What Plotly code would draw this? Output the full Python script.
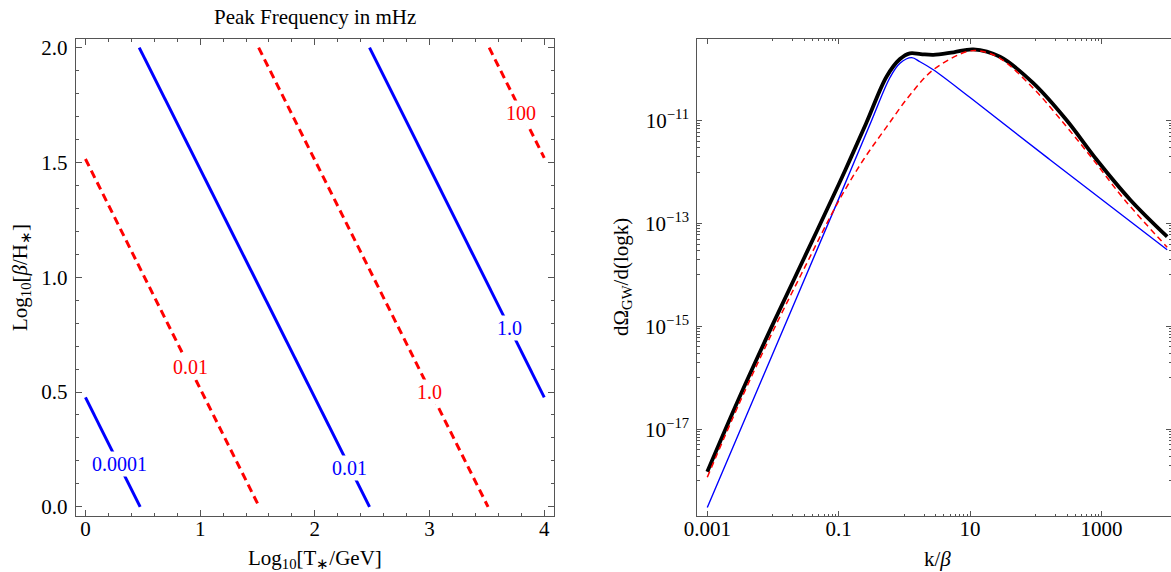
import plotly.graph_objects as go

# ---------------- left panel: contour lines of peak frequency (mHz) ----------------
blue_levels = ["0.0001", "0.01", "1.0"]
blue_T = [[0.0, 0.477], [0.469, 2.477], [2.477, 4.0]]      # Log10[T*/GeV] end points
blue_B = [[0.477, 0.0], [2.0, 0.0], [2.0, 0.477]]          # Log10[beta/H*] end points
blue_lab_T = [0.30, 2.30, 3.70]
blue_lab_B = [0.185, 0.17, 0.78]

red_levels = ["0.01", "1.0", "100"]
red_T = [[0.0, 1.515], [1.51, 3.51], [3.52, 4.0]]
red_B = [[1.515, 0.0], [2.0, 0.0], [2.0, 1.52]]
red_lab_T = [0.915, 3.0, 3.80]
red_lab_B = [0.607, 0.5, 1.716]

x_ticks_left = [0, 1, 2, 3, 4]
y_ticks_left = [0.0, 0.5, 1.0, 1.5, 2.0]
y_ticktext_left = ["0.0", "0.5", "1.0", "1.5", "2.0"]

# ---------------- right panel: GW spectrum ----------------
k_total = [0.001, 0.00296, 0.01, 0.0316, 0.1, 0.1486, 0.2667, 0.537, 0.857, 1.213,
           1.778, 2.754, 5.62, 11.19, 28.5, 91.6, 295, 845, 2754, 10000]
om_total = [1.50e-18, 3.72e-17, 1.12e-15, 2.51e-14, 5.75e-13, 1.75e-12, 9.4e-12,
            7.24e-11, 1.58e-10, 2.04e-10, 1.97e-10, 1.90e-10, 2.14e-10, 2.44e-10,
            1.75e-10, 5.37e-11, 1.02e-11, 1.74e-12, 2.88e-13, 5.56e-14]

k_blue = [0.001, 0.01, 0.1, 0.177, 0.318, 0.604, 0.857, 1.291, 1.726, 2.754, 10, 164.4, 10000]
om_blue = [3.02e-19, 3.02e-16, 3.02e-13, 1.72e-12, 1.02e-11, 6.92e-11, 1.31e-10,
           1.68e-10, 1.40e-10, 9.77e-11, 2.82e-11, 1.74e-12, 3.09e-14]

k_red = [0.001, 0.00316, 0.01, 0.0316, 0.1, 0.2366, 0.537, 1.216, 2.754, 8.87, 14.16,
         28.5, 91.6, 295, 750, 2254, 10000]
om_red = [1.17e-18, 3.47e-17, 8.13e-16, 1.55e-14, 2.75e-13, 1.72e-12, 7.59e-12,
          3.16e-11, 9.77e-11, 2.19e-10, 2.26e-10, 1.63e-10, 4.27e-11, 7.59e-12,
          1.74e-12, 2.88e-13, 3.47e-14]

x_ticks_right = [0.001, 0.1, 10, 1000]
x_ticktext_right = ["0.001", "0.1", "10", "1000"]
y_ticks_right = [1e-11, 1e-13, 1e-15, 1e-17]
y_ticktext_right = ["10<sup>\u221211</sup>", "10<sup>\u221213</sup>",
                    "10<sup>\u221215</sup>", "10<sup>\u221217</sup>"]

BLUE = "rgb(0,0,255)"
RED = "rgb(255,0,0)"
FONT = "Liberation Serif"
AX = "#555555"
W, H = 1171, 572

fig = go.Figure()

for xs, ys in zip(blue_T, blue_B):
    fig.add_trace(go.Scatter(x=xs, y=ys, mode="lines", line=dict(color=BLUE, width=3),
                             xaxis="x", yaxis="y", showlegend=False, hoverinfo="skip"))
for xs, ys in zip(red_T, red_B):
    fig.add_trace(go.Scatter(x=xs, y=ys, mode="lines",
                             line=dict(color=RED, width=3, dash="8px,5px"),
                             xaxis="x", yaxis="y", showlegend=False, hoverinfo="skip"))

fig.add_trace(go.Scatter(x=k_total, y=om_total, mode="lines", line_shape="spline",
                         line=dict(color="black", width=3.8),
                         xaxis="x2", yaxis="y2", showlegend=False))
fig.add_trace(go.Scatter(x=k_blue, y=om_blue, mode="lines", line_shape="spline",
                         line=dict(color=BLUE, width=1.4),
                         xaxis="x2", yaxis="y2", showlegend=False))
fig.add_trace(go.Scatter(x=k_red, y=om_red, mode="lines", line_shape="spline",
                         line=dict(color=RED, width=1.5, dash="6px,4px"),
                         xaxis="x2", yaxis="y2", showlegend=False))

annotations = []
for txt, xv, yv in zip(blue_levels, blue_lab_T, blue_lab_B):
    annotations.append(dict(x=xv, y=yv, xref="x", yref="y", text=txt, showarrow=False,
                            xanchor="center", yanchor="middle",
                            font=dict(family=FONT, size=20, color=BLUE),
                            bgcolor="white", borderpad=1))
for txt, xv, yv in zip(red_levels, red_lab_T, red_lab_B):
    annotations.append(dict(x=xv, y=yv, xref="x", yref="y", text=txt, showarrow=False,
                            xanchor="center", yanchor="middle",
                            font=dict(family=FONT, size=20, color=RED),
                            bgcolor="white", borderpad=1))


def label(text, px, py, angle=0, size=21):
    return dict(x=px / W, y=1 - py / H, xref="paper", yref="paper", text=text,
                showarrow=False, xanchor="center", yanchor="middle", textangle=angle,
                font=dict(family=FONT, size=size, color="black"))


annotations += [
    label("Peak Frequency in mHz", 315, 17),
    label("Log<sub>10</sub>[T<sub>\u2217</sub>/GeV]", 315, 559),
    label("Log<sub>10</sub>[<i>\u03b2</i>/H<sub>\u2217</sub>]", 21, 278, -90),
    label("k/<i>\u03b2</i>", 937, 559),
    label("d\u03a9<sub>GW</sub>/d(logk)", 622, 277, -90),
]

ydom = [1 - 516 / H, 1 - 38.5 / H]
common = dict(showline=True, linecolor=AX, linewidth=1, mirror="allticks", ticks="inside",
              tickcolor=AX, showgrid=False, zeroline=False, automargin=False,
              tickfont=dict(family=FONT, size=21, color="black"))

fig.update_layout(
    template="none",
    width=W, height=H, margin=dict(l=0, r=0, t=0, b=0, pad=0),
    paper_bgcolor="white", plot_bgcolor="white",
    annotations=annotations,
    xaxis=dict(domain=[75.7 / W, 554 / W], range=[-0.085, 4.085], anchor="y",
               tickvals=x_ticks_left, ticklen=6,
               minor=dict(tickvals=[i * 0.2 for i in range(21)], ticks="inside", ticklen=3.5,
                          tickcolor=AX, showgrid=False),
               ticklabelstandoff=-6, **common),
    yaxis=dict(domain=ydom, range=[-0.04, 2.04], anchor="x",
               tickvals=y_ticks_left, ticktext=y_ticktext_left, ticklen=6,
               minor=dict(tickvals=[i * 0.1 for i in range(21)], ticks="inside", ticklen=3.5,
                          tickcolor=AX, showgrid=False),
               ticklabelstandoff=3, **common),
    xaxis2=dict(domain=[697.3 / W, 1.0], type="log", range=[-3.152, 4.058], anchor="y2",
                tickvals=x_ticks_right, ticktext=x_ticktext_right, ticklen=5,
                minor=dict(tickvals=[m * 10.0 ** e for e in (-2, 0, 2) for m in range(1, 10)],
                           ticks="inside", ticklen=2.5, tickcolor=AX, showgrid=False),
                ticklabelstandoff=-6, **common),
    yaxis2=dict(domain=ydom, type="log", range=[-18.686, -9.402], anchor="x2",
                tickvals=y_ticks_right, ticktext=y_ticktext_right, ticklen=5,
                minor=dict(tickvals=[m * 10.0 ** e for e in (-12, -14, -16, -18) for m in range(1, 10)],
                           ticks="inside", ticklen=2.5, tickcolor=AX, showgrid=False),
                ticklabelstandoff=3, **common),
)

fig.write_html("out.html")
